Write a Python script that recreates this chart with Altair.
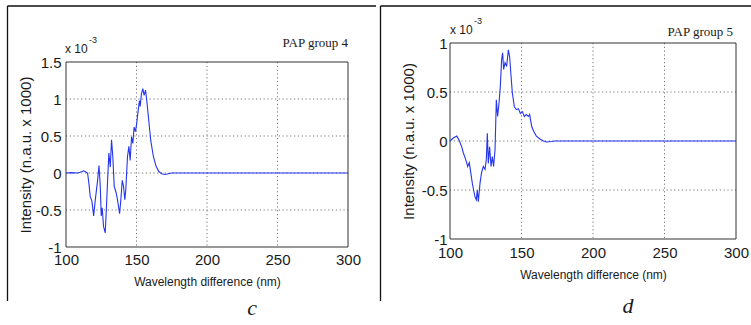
import altair as alt
import pandas as pd

# ---------------- data ----------------
x4 = [100, 104, 108, 110, 111.5, 112.5, 113.5, 115.3, 116.3, 117.2, 118.4, 119.6,
      120.8, 122.4, 123.4, 124.3, 125.0, 125.7, 126.6, 127.8, 128.5, 129.5, 130.4,
      131.4, 132.3, 133.2, 134.2, 135.6, 136.5, 138.0, 138.9, 139.9, 140.8, 141.7,
      142.4, 143.6, 144.6, 145.5, 146.5, 147.4, 148.3, 149.3, 150.2, 151.2, 152.1,
      152.6, 153.5, 154.5, 155.4, 156.4, 157.3, 158.7, 160.1, 162.0, 163.9, 165.8,
      167.9, 170.3, 172.6, 175, 200, 250, 300]
y4 = [0, 0.005, 0, 0.01, 0.02, 0.03, 0.02, 0, -0.15, -0.32, -0.38, -0.58,
      -0.36, -0.1, 0.1, -0.18, -0.58, -0.47, -0.72, -0.81, -0.54, -0.1, 0.27,
      0.08, 0.45, 0.22, -0.18, -0.27, -0.36, -0.55, -0.36, -0.1, -0.18, -0.36,
      -0.23, 0.22, 0.36, 0.17, 0.49, 0.4, 0.62, 0.56, 0.68, 0.85, 0.98,
      0.9, 1.07, 1.14, 1.05, 1.12, 0.98, 0.71, 0.44, 0.22, 0.09, 0.02,
      -0.01, -0.02, -0.01, 0, 0, 0, 0]

x5 = [100, 102.3, 104.7, 106.3, 108.2, 109.3, 111.0, 112.4, 113.5, 114.5, 115.6,
      116.5, 117.5, 118.4, 119.1, 119.8, 121.0, 122.1, 123.3, 124.5, 125.4, 126.1,
      126.8, 127.7, 128.7, 129.6, 130.5, 131.5, 132.4, 133.3, 134.3, 135.2, 136.1,
      136.8, 137.5, 138.5, 139.6, 140.8, 141.7, 142.7, 143.6, 145.0, 146.4, 147.8,
      149.2, 150.6, 152.0, 153.4, 154.8, 155.7, 157.1, 158.5, 160.4, 162.9, 165.3,
      167.6, 171.1, 173.4, 200, 250, 300]
y5 = [0, 0.03, 0.05, 0.01, -0.06, -0.12, -0.19, -0.26, -0.22, -0.32, -0.43,
      -0.5, -0.57, -0.6, -0.5, -0.62, -0.43, -0.32, -0.26, -0.29, -0.19, 0.08,
      -0.23, -0.06, -0.26, -0.16, -0.26, -0.09, 0.42, 0.25, 0.39, 0.56, 0.83,
      0.9, 0.73, 0.8, 0.76, 0.93, 0.86, 0.66, 0.49, 0.35, 0.32, 0.33,
      0.28, 0.3, 0.25, 0.27, 0.25, 0.27, 0.15, 0.1, 0.05, 0.02, 0,
      -0.01, -0.005, 0, 0, 0, 0]

x_ticks = [100, 150, 200, 250, 300]
x_grid = [150, 200, 250]
y4_ticks = [-1, -0.5, 0, 0.5, 1, 1.5]
y4_grid = [-0.5, 0, 0.5, 1]
y5_ticks = [-1, -0.5, 0, 0.5, 1]
y5_grid = [-0.5, 0, 0.5]

x_title = "Wavelength difference (nm)"
y_title = "Intensity (n.a.u. x 1000)"

W, H = 751, 325
SANS = "Liberation Sans"
SERIF = "Liberation Serif"
INK = "#1a1a1a"
BLUE = "#2536ee"


def panel(xs, ys, x_dom, y_dom, xr, yr, y_ticks, y_grid,
          lab_pad_x, title_pad_x, lab_pad_y, title_pad_y):
    xsc = alt.Scale(domain=x_dom, range=xr, nice=False, zero=False)
    ysc = alt.Scale(domain=y_dom, range=yr, nice=False, zero=False)
    none_x = alt.X("x:Q", scale=xsc, axis=None)
    none_y = alt.Y("y:Q", scale=ysc, axis=None)

    vgrid = alt.Chart(pd.DataFrame({"x": x_grid})).mark_rule(
        color="#666", strokeWidth=0.9, strokeDash=[1.2, 2.6]
    ).encode(x=none_x, y=alt.value(yr[1]), y2=alt.value(yr[0]))
    hgrid = alt.Chart(pd.DataFrame({"y": y_grid})).mark_rule(
        color="#666", strokeWidth=0.9, strokeDash=[1.2, 2.6]
    ).encode(y=none_y, x=alt.value(xr[0]), x2=alt.value(xr[1]))

    frame = alt.Chart(pd.DataFrame({"x": [x_dom[0]], "x2": [x_dom[1]],
                                    "y": [y_dom[0]], "y2": [y_dom[1]]})).mark_rect(
        fill=None, stroke="#333", strokeWidth=1
    ).encode(x=none_x, x2="x2:Q", y=none_y, y2="y2:Q")

    line = alt.Chart(pd.DataFrame({"x": xs, "y": ys})).mark_line(
        color=BLUE, strokeWidth=1.1, interpolate="linear"
    ).encode(
        x=alt.X("x:Q", scale=xsc, axis=alt.Axis(
            orient="bottom", offset=-(H - yr[0]), values=x_ticks, title=x_title,
            grid=False, ticks=False, domain=False, labelFont=SANS, labelFontSize=15,
            labelColor=INK, labelPadding=lab_pad_x, labelFlush=False, labelOverlap=False,
            titleFont=SANS, titleFontSize=12, titleFontWeight="normal",
            titleColor=INK, titlePadding=title_pad_x)),
        y=alt.Y("y:Q", scale=ysc, axis=alt.Axis(
            orient="left", offset=-xr[0], values=y_ticks, title=y_title,
            labelExpr="toString(datum.value)",
            grid=False, ticks=False, domain=False, labelFont=SANS, labelFontSize=15,
            labelColor=INK, labelPadding=lab_pad_y, labelFlush=False, labelOverlap=False,
            titleFont=SANS, titleFontSize=15, titleFontWeight="normal",
            titleColor=INK, titlePadding=title_pad_y)),
        order="i:Q",
    ).transform_window(i="row_number()")

    return [vgrid, hgrid, frame, line]


left = panel(x4, y4, [100, 300], [-1, 1.5], [66, 348], [247, 62], y4_ticks, y4_grid,
             5, 9, 5, 2)
right = panel(x5, y5, [100, 300], [-1, 1], [450, 736], [239, 43], y5_ticks, y5_grid,
              6, 9, 3, 5)


def txt(s, x, y, size, font=SANS, align="left", baseline="middle", style="normal"):
    return alt.Chart(pd.DataFrame({"t": [s]})).mark_text(
        font=font, fontSize=size, align=align, baseline=baseline, color=INK,
        fontStyle=style
    ).encode(x=alt.value(x), y=alt.value(y), text="t:N")


def rule(x1, y1, x2, y2):
    return alt.Chart(pd.DataFrame({"a": [0]})).mark_rule(
        color="#111", strokeWidth=1.3
    ).encode(x=alt.value(x1), y=alt.value(y1), x2=alt.value(x2), y2=alt.value(y2))


notes = [
    txt("x 10", 65, 49, 12), txt("-3", 89, 40, 9),
    txt("PAP group 4", 348, 43, 13, SERIF, "right"),
    txt("x 10", 450, 30, 12), txt("-3", 474, 21, 9),
    txt("PAP group 5", 733, 32, 13, SERIF, "right"),
    txt("c", 252, 308, 22, SERIF, "center", "middle", "italic"),
    txt("d", 628, 306, 22, SERIF, "center", "middle", "italic"),
    rule(7.5, 6, 376, 6), rule(7.5, 6, 7.5, 301),
    rule(380.5, 6, 751, 6), rule(380.5, 6, 380.5, 301),
]

chart = alt.layer(*left, *right, *notes).resolve_scale(
    x="independent", y="independent"
).properties(
    width=W, height=H, padding=0,
    autosize=alt.AutoSizeParams(type="none"),
    background="white",
).configure_view(stroke=None)

chart.save("out.html", embed_options={"renderer": "svg", "actions": False})
